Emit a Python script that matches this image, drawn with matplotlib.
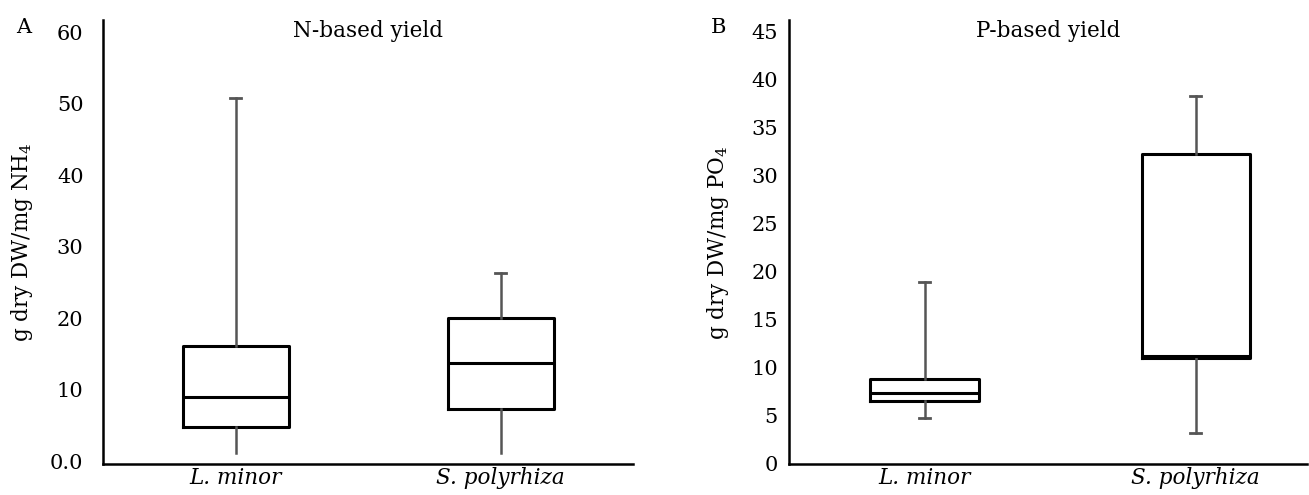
import matplotlib
matplotlib.use("Agg")
import matplotlib.pyplot as plt

plt.rcParams['font.family'] = ['DejaVu Serif', 'Liberation Serif']
plt.rcParams['mathtext.fontset'] = 'dejavuserif'

categories = ["L. minor", "S. polyrhiza"]

# Panel A: N-based yield (whislo, q1, med, q3, whishi)
n_whislo = [1.2, 1.1]
n_q1 = [4.8, 7.3]
n_med = [9.0, 13.7]
n_q3 = [16.1, 20.0]
n_whishi = [50.8, 26.3]
n_ticks = [0, 10, 20, 30, 40, 50, 60]
n_ticklabels = ["0.0", "10", "20", "30", "40", "50", "60"]

# Panel B: P-based yield
p_whislo = [4.7, 3.1]
p_q1 = [6.5, 11.0]
p_med = [7.3, 11.2]
p_q3 = [8.8, 32.3]
p_whishi = [18.9, 38.3]
p_ticks = [0, 5, 10, 15, 20, 25, 30, 35, 40, 45]
p_ticklabels = ["0", "5", "10", "15", "20", "25", "30", "35", "40", "45"]

W, H = 1309, 495
fig = plt.figure(figsize=(W / 100, H / 100), dpi=100)

def make_panel(rect, whislo, q1, med, q3, whishi, ticks, ticklabels, ylim, xlim,
               title, ylabel, letter, letter_x, ylabel_x, tickpad, lower_caps):
    ax = fig.add_axes(rect)
    stats = []
    for i, c in enumerate(categories):
        stats.append(dict(label=c, whislo=whislo[i], q1=q1[i], med=med[i],
                          q3=q3[i], whishi=whishi[i], fliers=[]))
    res = ax.bxp(stats, positions=[0, 1], widths=0.4, showfliers=False,
                 boxprops=dict(color='black', linewidth=2.2),
                 medianprops=dict(color='black', linewidth=2.2),
                 whiskerprops=dict(color='#555555', linewidth=1.8),
                 capprops=dict(color='#555555', linewidth=2.0),
                 capwidths=0.04)
    for i in range(len(categories)):
        if not lower_caps:
            res['caps'][2 * i].set_visible(False)
    ax.set_xlim(*xlim)
    ax.set_ylim(*ylim)
    ax.set_yticks(ticks)
    ax.set_yticklabels(ticklabels)
    ax.set_xticks([0, 1])
    ax.set_xticklabels(categories, fontstyle='italic', fontsize=15.5)
    ax.tick_params(axis='both', length=0)
    ax.tick_params(axis='y', pad=tickpad, labelsize=15)
    ax.tick_params(axis='x', pad=2)
    for s in ['top', 'right']:
        ax.spines[s].set_visible(False)
    for s in ['left', 'bottom']:
        ax.spines[s].set_linewidth(1.8)
        ax.spines[s].set_color('black')
    ax.text(0.5, 0.975, title, transform=ax.transAxes, ha='center', va='center',
            fontsize=15.5)
    fig.text(ylabel_x, 0.51, ylabel, rotation=90, ha='center', va='center',
             fontsize=15.5)
    fig.text(letter_x, 0.945, letter, ha='center', va='center', fontsize=15)
    return ax

make_panel([103 / W, 1 - 464 / H, (633 - 103) / W, (464 - 20) / H],
           n_whislo, n_q1, n_med, n_q3, n_whishi, n_ticks, n_ticklabels,
           (-0.4, 61.7), (-0.5, 1.5), "N-based yield",
           "g dry DW/mg NH$_4$", "A", 24 / W, 22 / W, 14, False)

make_panel([789 / W, 1 - 464 / H, (1307 - 789) / W, (464 - 20) / H],
           p_whislo, p_q1, p_med, p_q3, p_whishi, p_ticks, p_ticklabels,
           (-0.1, 46.25), (-0.5, 1.41), "P-based yield",
           "g dry DW/mg PO$_4$", "B", 718 / W, 718 / W, 8, True)

fig.savefig("out.png", dpi=100, facecolor='white')
